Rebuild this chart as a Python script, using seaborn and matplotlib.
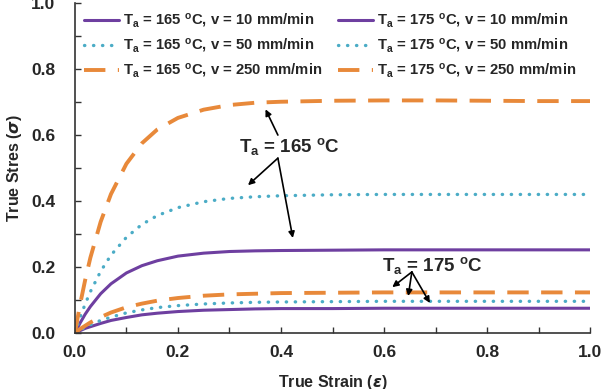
import matplotlib
matplotlib.use("Agg")
import matplotlib.pyplot as plt
from matplotlib.ticker import MultipleLocator
import pandas as pd
import seaborn as sns

STRAIN = [0, 0.01, 0.02, 0.03, 0.05, 0.07, 0.1, 0.13, 0.16, 0.2,
          0.25, 0.3, 0.35, 0.4, 0.5, 0.6, 0.7, 0.8, 0.9, 1.0]

# Ta = 165 C
S165_V10 = [0, 0.030, 0.057, 0.080, 0.119, 0.149, 0.182, 0.204, 0.219, 0.233,
            0.242, 0.247, 0.249, 0.250, 0.251, 0.252, 0.252, 0.252, 0.252, 0.252]
S165_V50 = [0, 0.047, 0.088, 0.125, 0.187, 0.236, 0.290, 0.329, 0.356, 0.380,
            0.398, 0.408, 0.413, 0.416, 0.419, 0.420, 0.420, 0.420, 0.420, 0.420]
S165_V250 = [0, 0.086, 0.161, 0.228, 0.337, 0.421, 0.513, 0.575, 0.617, 0.652,
             0.677, 0.691, 0.698, 0.701, 0.704, 0.705, 0.705, 0.704, 0.703, 0.703]

# Ta = 175 C
S175_V10 = [0, 0.007, 0.014, 0.019, 0.029, 0.038, 0.047, 0.055, 0.060, 0.065,
            0.069, 0.071, 0.073, 0.074, 0.074, 0.075, 0.075, 0.075, 0.075, 0.075]
S175_V50 = [0, 0.009, 0.017, 0.025, 0.038, 0.048, 0.061, 0.070, 0.077, 0.083,
            0.088, 0.091, 0.093, 0.094, 0.095, 0.096, 0.096, 0.096, 0.096, 0.096]
S175_V250 = [0, 0.012, 0.022, 0.032, 0.048, 0.062, 0.078, 0.089, 0.098, 0.106,
             0.113, 0.117, 0.119, 0.121, 0.122, 0.123, 0.123, 0.123, 0.123, 0.123]

TEMPS = ["165", "175"]
SPEEDS = ["10", "50", "250"]

PURPLE = "#6E3FA0"
AQUA = "#4BACC6"
ORANGE = "#E8893A"

STYLES = {
    "10": dict(color=PURPLE, linewidth=2.2, linestyle="-"),
    "50": dict(color=AQUA, linewidth=2.4, linestyle=(0, (0.1, 2.6)),
               dash_capstyle="round"),
    "250": dict(color=ORANGE, linewidth=2.8, linestyle=(0, (5.5, 3.2))),
}

series = {
    ("165", "10"): S165_V10, ("165", "50"): S165_V50, ("165", "250"): S165_V250,
    ("175", "10"): S175_V10, ("175", "50"): S175_V50, ("175", "250"): S175_V250,
}

sns.set_style("ticks")
plt.rcParams["font.family"] = ["Liberation Sans", "DejaVu Sans"]
plt.rcParams["font.weight"] = "bold"
plt.rcParams["axes.labelweight"] = "bold"

fig = plt.figure(figsize=(6.04, 3.89), dpi=100)
ax = fig.add_axes([0.124, 0.144, 0.853, 0.848])

for temp in TEMPS:
    for speed in SPEEDS:
        df = pd.DataFrame({"strain": STRAIN, "stress": series[(temp, speed)]})
        label = (r"T$\mathregular{_a}$ = " + temp + r" $\mathregular{^o}$C, v = "
                 + speed + " mm/min")
        sns.lineplot(data=df, x="strain", y="stress", ax=ax, label=label,
                     **STYLES[speed])

ax.set_xlim(0, 1.0)
ax.set_ylim(0, 1.0)
ax.xaxis.set_major_locator(MultipleLocator(0.2))
ax.yaxis.set_major_locator(MultipleLocator(0.2))
ax.xaxis.set_minor_locator(MultipleLocator(0.1))
ax.yaxis.set_minor_locator(MultipleLocator(0.1))
ax.tick_params(which="both", direction="in", length=4, width=1, color="#333333")
ax.tick_params(axis="x", labelsize=12.5, pad=9)
ax.tick_params(axis="y", labelsize=12.5, pad=14)
for lbl in ax.get_xticklabels() + ax.get_yticklabels():
    lbl.set_fontweight("bold")
sns.despine(ax=ax)
for sp in ["left", "bottom"]:
    ax.spines[sp].set_color("#333333")
    ax.spines[sp].set_linewidth(1.2)

ax.set_xlabel(r"True Strain ($\epsilon$)", fontsize=11.5, fontweight="bold", labelpad=9)
ax.set_ylabel(r"True Stres ($\sigma$)", fontsize=11.5, fontweight="bold", labelpad=5)

ax.legend(loc="upper left", ncol=2, frameon=False, fontsize=10.7,
          bbox_to_anchor=(0.0, 1.0), handlelength=2.4, handletextpad=0.25,
          columnspacing=1.0, labelspacing=0.47, borderaxespad=0.2)

arrow = dict(arrowstyle="-|>", color="black", lw=1.2, mutation_scale=9,
             shrinkA=0, shrinkB=0)

ax.text(0.417, 0.565, r"T$\mathregular{_a}$ = 165 $\mathregular{^o}$C",
        fontsize=13.5, fontweight="bold", ha="center", va="center")
ax.annotate("", xy=(0.370, 0.678), xytext=(0.394, 0.600), arrowprops=arrow)
ax.annotate("", xy=(0.336, 0.448), xytext=(0.394, 0.530), arrowprops=arrow)
ax.annotate("", xy=(0.423, 0.288), xytext=(0.394, 0.530), arrowprops=arrow)

ax.text(0.695, 0.205, r"T$\mathregular{_a}$ = 175 $\mathregular{^o}$C",
        fontsize=13.5, fontweight="bold", ha="center", va="center")
ax.annotate("", xy=(0.616, 0.139), xytext=(0.654, 0.185), arrowprops=arrow)
ax.annotate("", xy=(0.647, 0.112), xytext=(0.654, 0.185), arrowprops=arrow)
ax.annotate("", xy=(0.689, 0.091), xytext=(0.654, 0.185), arrowprops=arrow)

fig.savefig("out.png", dpi=100)
